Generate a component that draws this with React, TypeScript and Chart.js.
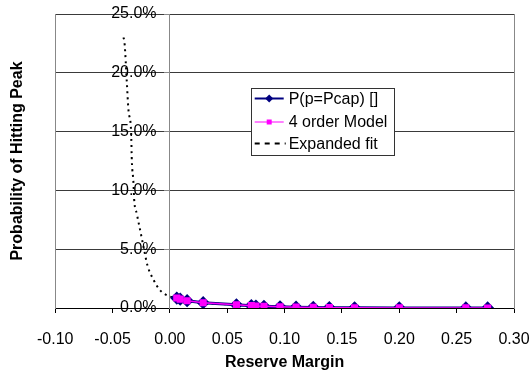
import React, { useEffect, useRef } from "react";
import { Chart, registerables } from "chart.js";

Chart.register(...registerables);

const FONT = "'Liberation Sans', Arial, sans-serif";

// Reserve margin (x) values of the observed points
const reserveMargin = [0.006, 0.009, 0.015, 0.029, 0.058, 0.071, 0.075, 0.082, 0.096, 0.110, 0.125, 0.139, 0.161, 0.200, 0.258, 0.277];
// P(p=Pcap) [] values
const pHit = [0.0085, 0.0075, 0.0062, 0.0045, 0.0027, 0.0020, 0.0017, 0.0014, 0.0010, 0.0007, 0.0005, 0.0003, 0.0002, 0.0001, 0.00005, 0.00003];
// 4 order Model values
const model4 = [0.0085, 0.0075, 0.0062, 0.0045, 0.0027, 0.0020, 0.0017, 0.0014, 0.0010, 0.0007, 0.0005, 0.0003, 0.0002, 0.0001, 0.00005, 0.00003];
// Expanded fit curve
const fitX = [-0.0405, -0.0396, -0.0375, -0.0361, -0.0338, -0.0332, -0.0318, -0.0312, -0.0288, -0.0259, -0.0230, -0.0195, -0.0143, -0.0085, 0.0, 0.006, 0.015, 0.029, 0.058, 0.075, 0.096];
const fitY = [0.230, 0.226, 0.191, 0.168, 0.1495, 0.1255, 0.107, 0.093, 0.080, 0.066, 0.052, 0.036, 0.024, 0.015, 0.0098, 0.0085, 0.0062, 0.0045, 0.0027, 0.0017, 0.0010];

const seriesNames = ["P(p=Pcap) []", "4 order Model", "Expanded fit"];
const xTitle = "Reserve Margin";
const yTitle = "Probability of Hitting Peak";

const legendPlugin = {
  id: "innerLegend",
  afterDraw(chart: any) {
    const { ctx, chartArea } = chart;
    const left = chartArea.left + 196;
    const top = chartArea.top + 73.5;
    const w = 143;
    const h = 67;
    ctx.save();
    ctx.fillStyle = "#ffffff";
    ctx.fillRect(left, top, w, h);
    ctx.strokeStyle = "#333333";
    ctx.lineWidth = 1;
    ctx.strokeRect(Math.round(left) + 0.5, Math.round(top) + 0.5, w, h);
    const rows = [top + 11, top + 34.5, top + 56];
    const x0 = left + 3.5;
    const x1 = left + 32.5;
    const xm = (x0 + x1) / 2;
    // row 1
    ctx.strokeStyle = "#000080";
    ctx.lineWidth = 2;
    ctx.beginPath();
    ctx.moveTo(x0, rows[0]);
    ctx.lineTo(x1, rows[0]);
    ctx.stroke();
    ctx.fillStyle = "#000080";
    ctx.beginPath();
    ctx.moveTo(xm, rows[0] - 4);
    ctx.lineTo(xm + 4, rows[0]);
    ctx.lineTo(xm, rows[0] + 4);
    ctx.lineTo(xm - 4, rows[0]);
    ctx.closePath();
    ctx.fill();
    // row 2
    ctx.strokeStyle = "#ff80ff";
    ctx.lineWidth = 2;
    ctx.beginPath();
    ctx.moveTo(x0, rows[1]);
    ctx.lineTo(x1, rows[1]);
    ctx.stroke();
    ctx.fillStyle = "#ff00ff";
    ctx.fillRect(xm - 2.5, rows[1] - 2.5, 5, 5);
    // row 3
    ctx.strokeStyle = "#000000";
    ctx.lineWidth = 2;
    ctx.setLineDash([5, 5]);
    ctx.beginPath();
    ctx.moveTo(x0, rows[2]);
    ctx.lineTo(x1 + 2, rows[2]);
    ctx.stroke();
    ctx.setLineDash([]);
    ctx.fillStyle = "#000000";
    ctx.font = `16px ${FONT}`;
    ctx.textBaseline = "middle";
    ctx.textAlign = "left";
    seriesNames.forEach((n, i) => ctx.fillText(n, left + 37.5, rows[i] + 1));
    ctx.restore();
  },
};

export default function App() {
  const ref = useRef<HTMLCanvasElement | null>(null);
  useEffect(() => {
    if (!ref.current) return;
    const chart = new Chart(ref.current, {
      type: "line",
      data: {
        datasets: [
          {
            label: seriesNames[1],
            data: reserveMargin.map((x, i) => ({ x, y: model4[i] })),
            borderColor: "#ff00ff",
            backgroundColor: "#ff00ff",
            borderWidth: 1.5,
            pointStyle: "rect",
            pointRadius: 4,
            pointBorderColor: "#ff00ff",
            pointBackgroundColor: "#ff00ff",
            order: 0,
          },
          {
            label: seriesNames[0],
            data: reserveMargin.map((x, i) => ({ x, y: pHit[i] })),
            borderColor: "#000080",
            backgroundColor: "#000080",
            borderWidth: 3,
            pointStyle: "rectRot",
            pointRadius: 4.5,
            order: 1,
          },
          {
            label: seriesNames[2],
            data: fitX.map((x, i) => ({ x, y: fitY[i] })),
            borderColor: "#000000",
            borderWidth: 2,
            borderDash: [2, 4],
            pointRadius: 0,
            cubicInterpolationMode: "monotone",
            order: 2,
          },
        ],
      },
      options: {
        animation: false,
        responsive: false,
        layout: { padding: { top: 14, right: 18, left: 0, bottom: 0 } },
        plugins: { legend: { display: false }, tooltip: { enabled: false } },
        scales: {
          x: {
            type: "linear",
            min: -0.1,
            max: 0.3,
            ticks: {
              stepSize: 0.05,
              padding: 2.2,
              color: "#000",
              font: { family: FONT, size: 16, lineHeight: 3.0 },
              callback: (v: any) => (Math.abs(v) < 1e-9 ? 0 : v).toFixed(2),
            },
            grid: { drawOnChartArea: false, drawTicks: true, tickLength: 5, color: "#000" },
            border: { color: "#000", width: 1 },
            title: {
              display: true,
              text: xTitle,
              color: "#000",
              font: { family: FONT, size: 16, weight: "bold" },
              padding: { top: -12.6, bottom: -2 },
            },
          },
          y: {
            position: "left",
            min: 0,
            max: 0.25,
            ticks: { display: false, stepSize: 0.05 },
            grid: { color: "#3a3a3a", drawTicks: false },
            border: { color: "#888", width: 1 },
            title: {
              display: true,
              text: yTitle,
              color: "#000",
              font: { family: FONT, size: 16, weight: "bold" },
              padding: { top: 8, bottom: 28 },
            },
          },
          yR: {
            position: "right",
            min: 0,
            max: 0.25,
            ticks: { display: false, stepSize: 0.05 },
            grid: { display: false, drawTicks: false },
            border: { display: true, color: "#888", width: 1 },
          },
          y2: {
            position: { x: 0 },
            min: 0,
            max: 0.25,
            ticks: {
              stepSize: 0.05,
              color: "#000",
              font: { family: FONT, size: 16 },
              callback: (v: any) => (v * 100).toFixed(1) + "%   ",
            },
            grid: { drawOnChartArea: false, drawTicks: true, tickLength: 5, color: "#888" },
            border: { color: "#888", width: 1 },
          },
        },
      },
      plugins: [legendPlugin],
    } as any);
    return () => chart.destroy();
  }, []);
  return (
    <div style={{ position: "fixed", left: 0, top: 0, width: 532, height: 370, background: "#fff" }}>
      <canvas ref={ref} width={532} height={370} />
    </div>
  );
}
